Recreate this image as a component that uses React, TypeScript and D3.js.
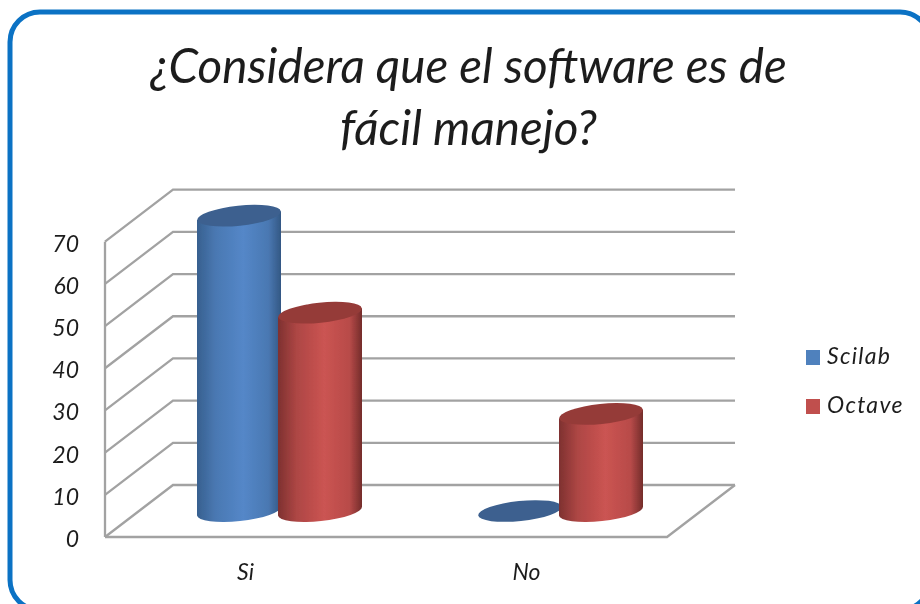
import React from "react";
import * as d3 from "d3";

const categories = ["Si", "No"];
const seriesNames = ["Scilab", "Octave"];
const scilabValues = [70, 0];
const octaveValues = [47, 23];
const yTicks = [0, 10, 20, 30, 40, 50, 60, 70];
const titleLines = ["¿Considera que el software es de", "fácil manejo?"];

const FONT = "Lato, 'Open Sans', sans-serif";
const TEXT = "#1f1f1f";
const GRID = "#a2a2a2";
const DEPTH_X = 68;
const DEPTH_Y = -52;
const FRONT_LEFT = 105;
const FRONT_RIGHT = 667;
const RX = 42;
const RY = 10;
const TILT = -6;

const y = d3.scaleLinear().domain([0, 70]).range([537, 241.7]);
const xFront = d3.scaleBand().domain(categories).range([FRONT_LEFT, FRONT_RIGHT]);
const xMid = d3.scaleBand().domain(categories).range([FRONT_LEFT + DEPTH_X / 2, FRONT_RIGHT + DEPTH_X / 2]);
const xSeries = d3.scaleBand().domain(seriesNames).range([-81, 81]);

const palette: Record<string, { stops: string[]; top: string; key: string }> = {
  Scilab: { stops: ["#37608f", "#4a78b2", "#5487c8", "#4a78b2", "#335884"], top: "#3c618f", key: "#4f81bd" },
  Octave: { stops: ["#7e3130", "#ad4644", "#cb5452", "#b84b49", "#742c2b"], top: "#953b39", key: "#c0504d" },
};
const stopOffsets = [0, 0.22, 0.55, 0.85, 1];

function Cylinder({ cx, value, name }: { cx: number; value: number; name: string }) {
  const base = y(0) + DEPTH_Y / 2;
  const topY = y(value) + DEPTH_Y / 2;
  const c = palette[name];
  const dy = RX * Math.tan((TILT * Math.PI) / 180);
  const side =
    `M${cx - RX},${topY - dy} L${cx - RX},${base - dy} ` +
    `A${RX},${RY} ${TILT} 0 0 ${cx + RX},${base + dy} L${cx + RX},${topY + dy} Z`;
  return (
    <g>
      {value > 0 && <path d={side} fill={`url(#grad-${name})`} />}
      <ellipse cx={cx} cy={topY} rx={RX} ry={RY} fill={c.top} transform={`rotate(${TILT} ${cx} ${topY})`} />
    </g>
  );
}

export default function App() {
  const floor = `M${FRONT_LEFT},${y(0)} L${FRONT_RIGHT},${y(0)} L${FRONT_RIGHT + DEPTH_X},${y(0) + DEPTH_Y}`;
  const wall = d3.path();
  yTicks.forEach((t) => {
    wall.moveTo(FRONT_LEFT, y(t));
    wall.lineTo(FRONT_LEFT + DEPTH_X, y(t) + DEPTH_Y);
    wall.lineTo(FRONT_RIGHT + DEPTH_X, y(t) + DEPTH_Y);
  });
  const bars = [
    ...categories.map((c, i) => ({ cat: c, name: "Scilab", value: scilabValues[i] })),
    ...categories.map((c, i) => ({ cat: c, name: "Octave", value: octaveValues[i] })),
  ];
  const mid = xMid.bandwidth() / 2;
  return (
    <svg width={920} height={604} style={{ position: "absolute", left: 0, top: 0 }} fontFamily={FONT} fontStyle="italic" fill={TEXT}>
      <defs>
        {seriesNames.map((n) => (
          <linearGradient key={n} id={`grad-${n}`} x1="0" x2="1" y1="0" y2="0">
            {stopOffsets.map((o, i) => (
              <stop key={o} offset={o} stopColor={palette[n].stops[i]} />
            ))}
          </linearGradient>
        ))}
        <filter id="soft" x="-5%" y="-5%" width="110%" height="110%">
          <feGaussianBlur stdDeviation="0.45" />
        </filter>
      </defs>
      <rect x={0} y={0} width={920} height={604} fill="#fff" />
      <rect x={10} y={12} width={920} height={598} rx={30} ry={30} fill="#fff" stroke="#0b72c4" strokeWidth={5} />
      <g filter="url(#soft)">
        <g fontSize={47.6} textAnchor="middle">
          {titleLines.map((t, i) => (
            <text key={t} x={468.5} y={83 + i * 62}>{t}</text>
          ))}
        </g>
        <path d={wall.toString()} fill="none" stroke={GRID} strokeWidth={2.3} />
        <path d={floor} fill="none" stroke={GRID} strokeWidth={2.3} />
        <line x1={FRONT_LEFT} x2={FRONT_LEFT} y1={y(0)} y2={y(70)} stroke={GRID} strokeWidth={2.3} />
        <g fontSize={23} textAnchor="end">
          {yTicks.map((t) => (
            <text key={t} x={79} y={y(t) + 10}>{t}</text>
          ))}
        </g>
        <g fontSize={23} textAnchor="middle">
          {categories.map((c) => (
            <text key={c} x={xFront(c)! + xFront.bandwidth() / 2} y={580}>{c}</text>
          ))}
        </g>
        {bars.map((b) => (
          <Cylinder key={b.cat + b.name} name={b.name} value={b.value} cx={xMid(b.cat)! + mid + xSeries(b.name)! + xSeries.bandwidth() / 2} />
        ))}
        {seriesNames.map((n, i) => (
          <g key={n}>
            <rect x={806} y={350 + i * 49} width={14} height={15} fill={palette[n].key} />
            <text x={827} y={364 + i * 49} fontSize={23} letterSpacing={1.3}>{n}</text>
          </g>
        ))}
      </g>
    </svg>
  );
}
